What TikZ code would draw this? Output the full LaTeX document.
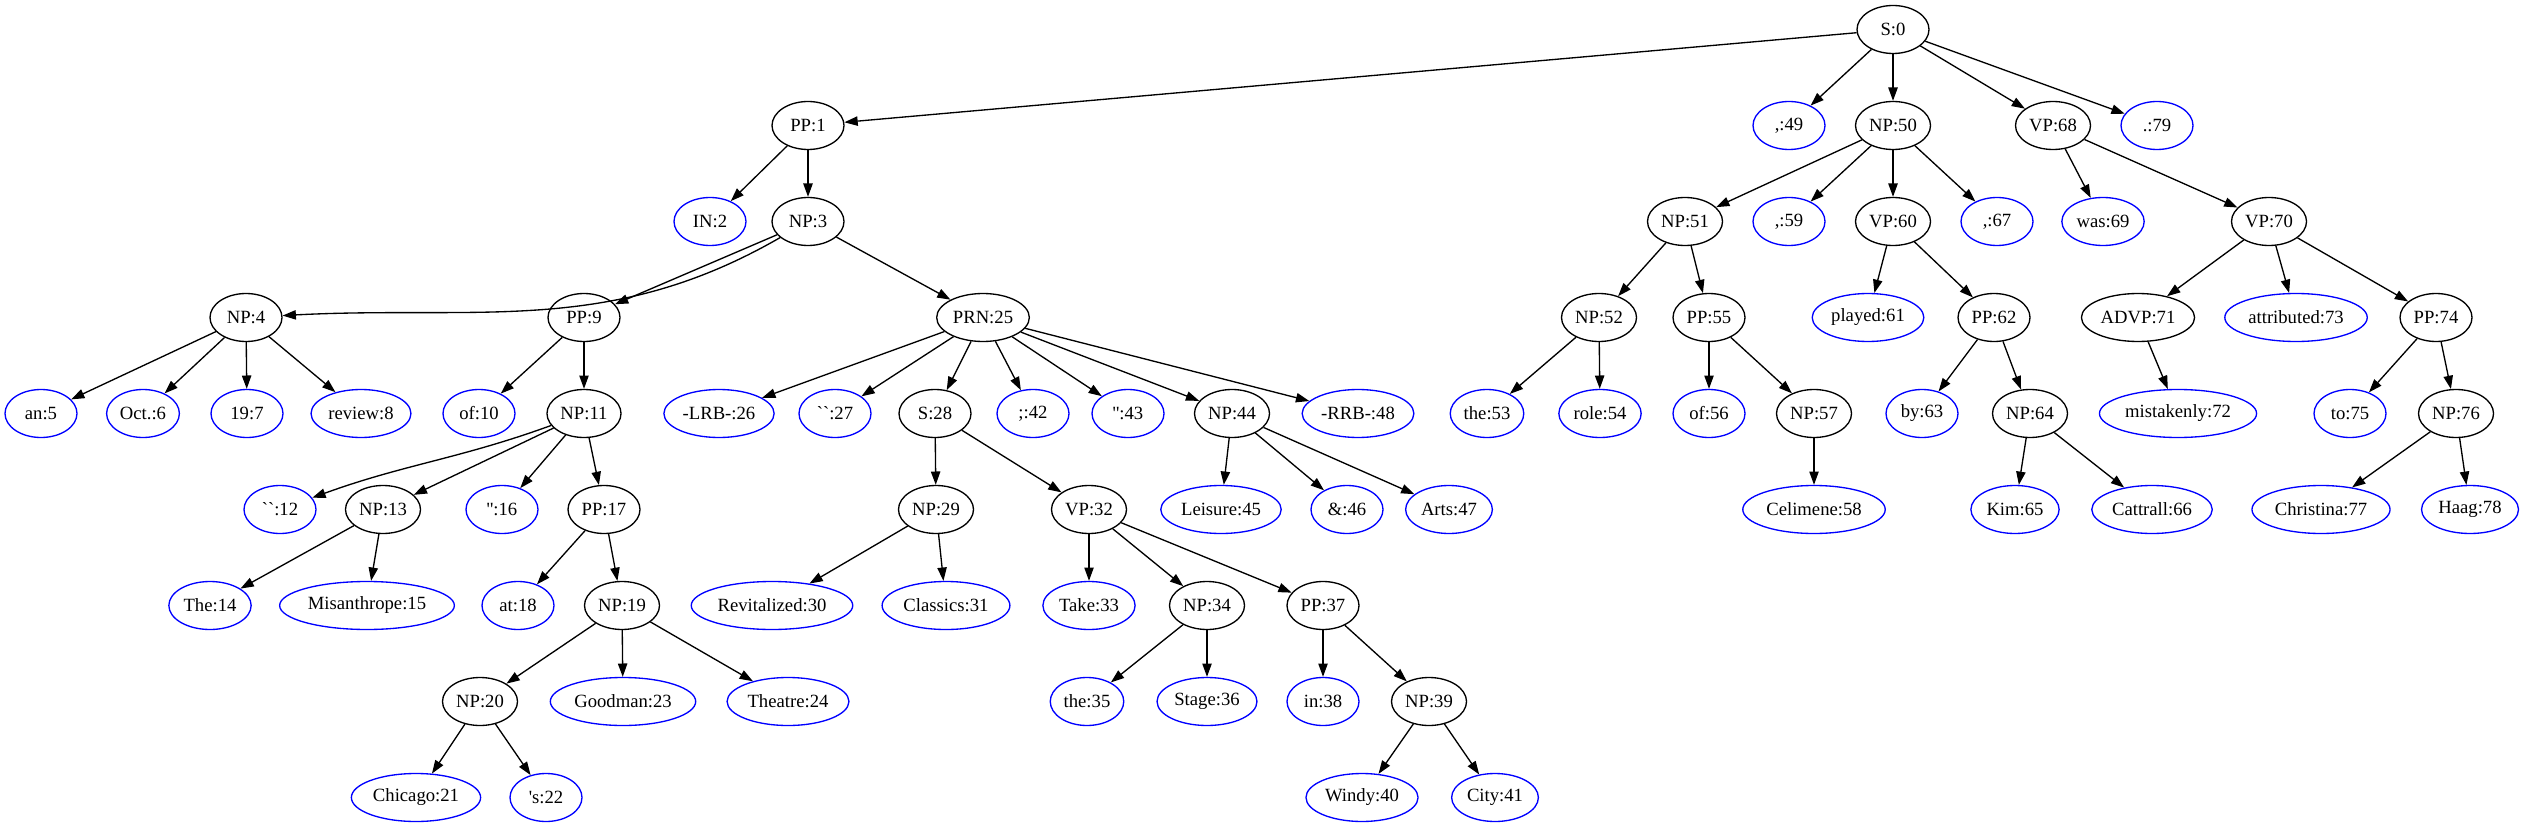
\documentclass[tikz,border=0pt]{standalone}
\usepackage{fontspec}
\setmainfont{Liberation Serif}
\usetikzlibrary{shapes.geometric,arrows.meta}
\tikzset{
  base/.style={ellipse, line width=1pt, minimum width=54pt, minimum height=36pt,
    inner xsep=2pt, inner ysep=0pt, font=\fontsize{14}{16}\selectfont, text=black},
  nt/.style={base, draw=black},
  tm/.style={base, draw=blue},
  arr/.style={-{Triangle[length=10pt,width=7pt]}, line width=1pt, draw=black}
}
\begin{document}
\begin{tikzpicture}[x=0.75pt,y=-0.75pt]
\useasboundingbox (0,0) rectangle (2529,827);
% level 0
\node[nt] (n0) at (1893,29.5) {S:0};
% level 1
\node[nt] (n1) at (808,125.5) {PP:1};
\node[tm] (n49) at (1789,125.5) {,:49};
\node[nt] (n50) at (1893,125.5) {NP:50};
\node[nt] (n68) at (2053,125.5) {VP:68};
\node[tm] (n79) at (2157,125.5) {.:79};
% level 2
\node[tm] (n2) at (710,221.5) {IN:2};
\node[nt] (n3) at (808,221.5) {NP:3};
\node[nt] (n51) at (1685,221.5) {NP:51};
\node[tm] (n59) at (1789,221.5) {,:59};
\node[nt] (n60) at (1893,221.5) {VP:60};
\node[tm] (n67) at (1997,221.5) {,:67};
\node[tm] (n69) at (2103,221.5) {was:69};
\node[nt] (n70) at (2269,221.5) {VP:70};
% level 3
\node[nt] (n4) at (246,317.5) {NP:4};
\node[nt] (n9) at (584,317.5) {PP:9};
\node[nt] (n25) at (983,317.5) {PRN:25};
\node[nt] (n52) at (1599,317.5) {NP:52};
\node[nt] (n55) at (1709,317.5) {PP:55};
\node[tm] (n61) at (1868,317.5) {played:61};
\node[nt] (n62) at (1994,317.5) {PP:62};
\node[nt] (n71) at (2138,317.5) {ADVP:71};
\node[tm] (n73) at (2296,317.5) {attributed:73};
\node[nt] (n74) at (2436,317.5) {PP:74};
% level 4
\node[tm] (n5) at (41,413.5) {an:5};
\node[tm] (n6) at (143,413.5) {Oct.:6};
\node[tm] (n7) at (247,413.5) {19:7};
\node[tm] (n8) at (361,413.5) {review:8};
\node[tm] (n10) at (479,413.5) {of:10};
\node[nt] (n11) at (584,413.5) {NP:11};
\node[tm] (n26) at (719,413.5) {-LRB-:26};
\node[tm] (n27) at (835,413.5) {\textasciigrave\textasciigrave:27};
\node[nt] (n28) at (935,413.5) {S:28};
\node[tm] (n42) at (1033,413.5) {;:42};
\node[tm] (n43) at (1128,413.5) {\textquotesingle\textquotesingle:43};
\node[nt] (n44) at (1232,413.5) {NP:44};
\node[tm] (n48) at (1358,413.5) {-RRB-:48};
\node[tm] (n53) at (1487,413.5) {the:53};
\node[tm] (n54) at (1600,413.5) {role:54};
\node[tm] (n56) at (1709,413.5) {of:56};
\node[nt] (n57) at (1814,413.5) {NP:57};
\node[tm] (n63) at (1922,413.5) {by:63};
\node[nt] (n64) at (2030,413.5) {NP:64};
\node[tm] (n72) at (2178,413.5) {mistakenly:72};
\node[tm] (n75) at (2350,413.5) {to:75};
\node[nt] (n76) at (2456,413.5) {NP:76};
% level 5
\node[tm] (n12) at (280,509.5) {\textasciigrave\textasciigrave:12};
\node[nt] (n13) at (383,509.5) {NP:13};
\node[tm] (n16) at (502,509.5) {\textquotesingle\textquotesingle:16};
\node[nt] (n17) at (604,509.5) {PP:17};
\node[nt] (n29) at (936,509.5) {NP:29};
\node[nt] (n32) at (1089,509.5) {VP:32};
\node[tm] (n45) at (1221,509.5) {Leisure:45};
\node[tm] (n46) at (1347,509.5) {\&:46};
\node[tm] (n47) at (1449,509.5) {Arts:47};
\node[tm] (n58) at (1814,509.5) {Celimene:58};
\node[tm] (n65) at (2015,509.5) {Kim:65};
\node[tm] (n66) at (2152,509.5) {Cattrall:66};
\node[tm] (n77) at (2321,509.5) {Christina:77};
\node[tm] (n78) at (2470,509.5) {Haag:78};
% level 6
\node[tm] (n14) at (210,605.5) {The:14};
\node[tm] (n15) at (367,605.5) {Misanthrope:15};
\node[tm] (n18) at (518,605.5) {at:18};
\node[nt] (n19) at (622,605.5) {NP:19};
\node[tm] (n30) at (772,605.5) {Revitalized:30};
\node[tm] (n31) at (946,605.5) {Classics:31};
\node[tm] (n33) at (1089,605.5) {Take:33};
\node[nt] (n34) at (1207,605.5) {NP:34};
\node[nt] (n37) at (1323,605.5) {PP:37};
% level 7
\node[nt] (n20) at (480,701.5) {NP:20};
\node[tm] (n23) at (623,701.5) {Goodman:23};
\node[tm] (n24) at (788,701.5) {Theatre:24};
\node[tm] (n35) at (1087,701.5) {the:35};
\node[tm] (n36) at (1207,701.5) {Stage:36};
\node[tm] (n38) at (1323,701.5) {in:38};
\node[nt] (n39) at (1429,701.5) {NP:39};
% level 8
\node[tm] (n21) at (416,797.5) {Chicago:21};
\node[tm] (n22) at (546,797.5) {\textquotesingle s:22};
\node[tm] (n40) at (1362,797.5) {Windy:40};
\node[tm] (n41) at (1495,797.5) {City:41};
% edges
\foreach \a/\b in {n0/n1,n0/n49,n0/n50,n0/n68,n0/n79,
  n1/n2,n1/n3,n3/n9,n3/n25,
  n4/n5,n4/n6,n4/n7,n4/n8,n9/n10,n9/n11,
  n11/n13,n11/n16,n11/n17,n13/n14,n13/n15,n17/n18,n17/n19,
  n19/n20,n19/n23,n19/n24,n20/n21,n20/n22,
  n25/n26,n25/n27,n25/n28,n25/n42,n25/n43,n25/n44,n25/n48,
  n28/n29,n28/n32,n29/n30,n29/n31,n32/n33,n32/n34,n32/n37,
  n34/n35,n34/n36,n37/n38,n37/n39,n39/n40,n39/n41,
  n44/n45,n44/n46,n44/n47,
  n50/n51,n50/n59,n50/n60,n50/n67,n51/n52,n51/n55,n52/n53,n52/n54,
  n55/n56,n55/n57,n57/n58,n60/n61,n60/n62,n62/n63,n62/n64,n64/n65,n64/n66,
  n68/n69,n68/n70,n70/n71,n70/n73,n70/n74,n71/n72,n74/n75,n74/n76,n76/n77,n76/n78}
  {\draw[arr] (\a) -- (\b);}
\draw[arr] (n3) to[out=-150,in=3] (n4);
\draw[arr] (n11) to[out=-160,in=20] (n12);
\end{tikzpicture}
\end{document}
